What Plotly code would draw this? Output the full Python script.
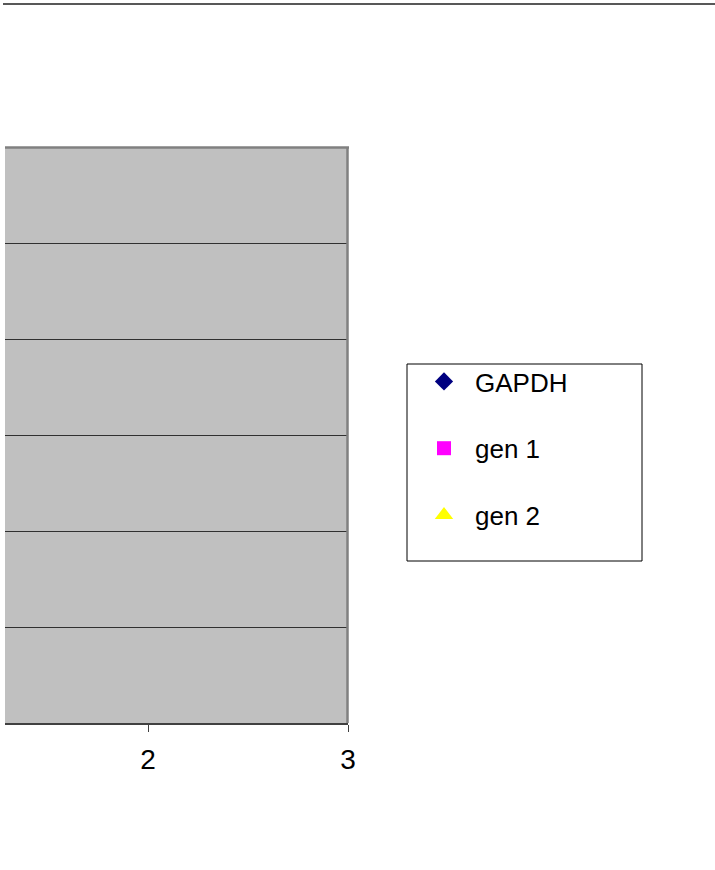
import plotly.graph_objects as go

# Data (no points fall inside the visible window of the reference)
series_names = ["GAPDH", "gen 1", "gen 2"]
gapdh_x, gapdh_y = [None], [None]
gen1_x, gen1_y = [None], [None]
gen2_x, gen2_y = [None], [None]
x_tick_vals = [2, 3]
x_tick_text = ["2", "3"]
y_grid_vals = [0, 1, 2, 3, 4, 5, 6]

W, H = 715, 870
L, R, T, B = 5, 348, 147, 723
pw, ph = R - L, B - T

def px(xp):
    return (xp - L) / pw

def py(yp):
    return (B - yp) / ph

fig = go.Figure()
fig.add_trace(go.Scatter(x=gapdh_x, y=gapdh_y, mode="markers", name=series_names[0],
                         legendgroup="a",
                         marker=dict(symbol="diamond", color="#000080", size=14)))
fig.add_trace(go.Scatter(x=gen1_x, y=gen1_y, mode="markers", name=series_names[1],
                         legendgroup="b",
                         marker=dict(symbol="square", color="#FF00FF", size=14)))
fig.add_trace(go.Scatter(x=gen2_x, y=gen2_y, mode="markers", name=series_names[2],
                         legendgroup="c",
                         marker=dict(symbol="triangle-up", color="#FFFF00", size=16)))

shapes = [
    # top page line
    dict(type="line", xref="paper", yref="paper", x0=px(3), x1=px(715), y0=py(4), y1=py(4),
         line=dict(color="#202020", width=1.5), layer="above"),
    # plot border top and right
    dict(type="line", xref="paper", yref="paper", x0=px(5), x1=px(349), y0=py(147.5), y1=py(147.5),
         line=dict(color="#808080", width=2.5), layer="above"),
    dict(type="line", xref="paper", yref="paper", x0=px(347.5), x1=px(347.5), y0=py(147), y1=py(723),
         line=dict(color="#808080", width=2.5), layer="above"),
    # legend box
    dict(type="rect", xref="paper", yref="paper", x0=px(407), x1=px(642), y0=py(364), y1=py(561),
         line=dict(color="#000000", width=1), fillcolor="rgba(0,0,0,0)"),
]

fig.update_layout(
    width=W, height=H,
    margin=dict(l=L, r=W - R, t=T, b=H - B, pad=0),
    paper_bgcolor="white",
    plot_bgcolor="#C0C0C0",
    font=dict(family="Arial, Liberation Sans, sans-serif", color="black"),
    showlegend=True,
    legend=dict(
        x=px(413), y=py(358), xanchor="left", yanchor="top",
        bgcolor="rgba(0,0,0,0)", borderwidth=0,
        font=dict(size=26, family="Arial, Liberation Sans, sans-serif"),
        itemwidth=52, tracegroupgap=30,
    ),
    xaxis=dict(
        range=[3 - pw / 200.0, 3], tickvals=x_tick_vals, ticktext=x_tick_text,
        showgrid=False, zeroline=False, showline=True, linecolor="#404040", linewidth=1.5,
        ticks="outside", ticklen=7, tickcolor="#404040", tickwidth=1,
        tickfont=dict(size=28), ticklabelstandoff=4, fixedrange=True,
    ),
    yaxis=dict(
        range=[0, 6], tickvals=y_grid_vals, showticklabels=False,
        showgrid=True, gridcolor="#303030", gridwidth=1.2,
        zeroline=False, showline=False, ticks="", fixedrange=True,
    ),
    shapes=shapes,
)

fig.write_html("out.html", config={"displayModeBar": False},
               post_script="document.body.style.margin='0px';")
